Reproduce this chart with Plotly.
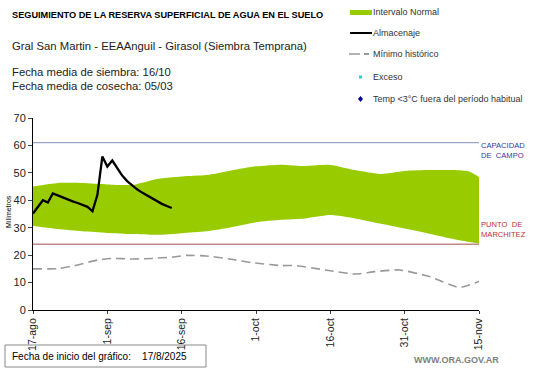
import plotly.graph_objects as go
import pandas as pd

START = pd.Timestamp("2025-08-17")

# Normal interval band (day offsets from start, lower/upper in mm)
band_days = [0, 5, 10, 15, 20, 25, 30, 35, 40, 45, 50, 55, 60, 65, 70, 75, 80, 85, 88, 90]
band_lower = [30.6, 29.5, 28.7, 28.1, 27.7, 27.4, 28.0, 28.7, 30.2, 32.0, 32.9, 33.4, 34.6, 33.4, 31.5, 29.7, 27.8, 25.8, 24.8, 24.2]
band_upper = [45.0, 46.3, 46.3, 45.8, 45.6, 47.8, 48.7, 49.2, 50.9, 52.4, 53.0, 52.5, 52.9, 51.0, 49.6, 50.7, 51.0, 51.0, 50.5, 48.5]

# Soil water storage (Almacenaje)
alm_days = list(range(0, 29))
alm_vals = [35.2, 37.5, 40.0, 39.2, 42.5, 41.8, 41.0, 40.3, 39.6, 39.0, 38.4, 37.6, 36.0, 42.0,
            56.0, 52.3, 54.5, 51.5, 49.0, 47.0, 45.4, 44.0, 42.8, 41.7, 40.6, 39.6, 38.7, 37.9, 37.2]

# Historical minimum
min_days = [0, 5, 9, 13, 16, 20, 24, 28, 31, 35, 40, 44, 50, 53, 59, 65, 69, 74, 80, 86, 90]
min_vals = [15.0, 15.1, 16.4, 18.2, 18.8, 18.6, 18.8, 19.3, 19.9, 19.7, 18.5, 17.3, 16.2, 16.2,
            14.6, 13.1, 14.0, 14.6, 12.2, 8.2, 10.4]

# Excess / low-temperature events (none in this period)
exc_days, exc_vals = [], []
temp_days, temp_vals = [], []

CAPACIDAD_CAMPO = 61
PUNTO_MARCHITEZ = 24

tick_days = [0, 15, 30, 45, 60, 75, 90]
tick_labels = ["17-ago", "1-sep", "16-sep", "1-oct", "16-oct", "31-oct", "15-nov"]
y_ticks = [0, 10, 20, 30, 40, 50, 60, 70]

legend_labels = ["Intervalo Normal", "Almacenaje", "Mínimo histórico", "Exceso",
                 "Temp <3°C fuera del período habitual"]


def to_dates(days):
    return [START + pd.Timedelta(days=d) for d in days]


END = START + pd.Timedelta(days=90)
GREEN = "#99CC00"

fig = go.Figure()
fig.add_trace(go.Scatter(x=to_dates(band_days), y=band_lower, mode="lines",
                         line=dict(width=0, color=GREEN, shape="spline", smoothing=0.6),
                         showlegend=False, hoverinfo="skip"))
fig.add_trace(go.Scatter(x=to_dates(band_days), y=band_upper, mode="lines",
                         line=dict(width=0, color=GREEN, shape="spline", smoothing=0.6),
                         fill="tonexty", fillcolor=GREEN, name=legend_labels[0],
                         showlegend=False))
fig.add_trace(go.Scatter(x=to_dates(min_days), y=min_vals, mode="lines",
                         line=dict(color="#999999", width=1.6, dash="9px,5px",
                                   shape="spline", smoothing=0.5),
                         name=legend_labels[2], showlegend=False))
fig.add_trace(go.Scatter(x=to_dates(alm_days), y=alm_vals, mode="lines",
                         line=dict(color="black", width=2.3),
                         name=legend_labels[1], showlegend=False))
fig.add_trace(go.Scatter(x=to_dates(exc_days), y=exc_vals, mode="markers",
                         marker=dict(color="#33CCCC", size=4, symbol="square"),
                         name=legend_labels[3], showlegend=False))
fig.add_trace(go.Scatter(x=to_dates(temp_days), y=temp_vals, mode="markers",
                         marker=dict(color="#000099", size=6, symbol="diamond"),
                         name=legend_labels[4], showlegend=False))

fig.add_shape(type="line", xref="x", yref="y", x0=START, x1=END,
              y0=CAPACIDAD_CAMPO, y1=CAPACIDAD_CAMPO, line=dict(color="#8090B8", width=1))
fig.add_shape(type="line", xref="x", yref="y", x0=START, x1=END,
              y0=PUNTO_MARCHITEZ, y1=PUNTO_MARCHITEZ, line=dict(color="#C08888", width=1.5))

W, H = 541, 368
L, R, T, B = 33, 62, 118, 58
PW, PH = W - L - R, H - T - B


def px(x):
    return (x - L) / PW


def py(y):
    return (H - B - y) / PH


ann = []


def text(t, x, y, size, color, xanchor="left", **kw):
    d = dict(text=t, x=px(x), y=py(y), xanchor=xanchor, yanchor="middle",
             font=dict(size=size, color=color), xref="paper", yref="paper",
             showarrow=False)
    d.update(kw)
    ann.append(d)


text("<b>SEGUIMIENTO DE LA RESERVA SUPERFICIAL DE AGUA EN EL SUELO</b>", 10, 15, 9.2, "black")
text("Gral San Martin - EEAAnguil - Girasol (Siembra Temprana)", 10, 46, 11.3, "#222")
text("Fecha media de siembra: 16/10", 10, 72, 11.3, "#222")
text("Fecha media de cosecha: 05/03", 10, 86, 11.3, "#222")
text("CAPACIDAD<br>DE  CAMPO", 479, 150, 7.6, "#3838A0", align="left")
text("PUNTO  DE<br>MARCHITEZ", 479, 229, 7.6, "#C03030", align="left")
text("Milímetros", 8, 212, 7, "black", xanchor="center", textangle=-90)
text("Fecha de inicio del gráfico:&nbsp;&nbsp;&nbsp;&nbsp;17/8/2025", 10, 356, 10, "black")
text("<b>WWW.ORA.GOV.AR</b>", 501, 360, 9, "#808080", xanchor="right")

# legend (manual)
leg_y = [12, 33, 54, 77, 99]
for lab, yy in zip(legend_labels, leg_y):
    text(lab, 371, yy, 9, "#333")

shapes = []
shapes.append(dict(type="rect", x0=px(350), x1=px(372), y0=py(15), y1=py(10),
                   fillcolor=GREEN, line=dict(width=0)))
shapes.append(dict(type="line", x0=px(350), x1=px(372), y0=py(33), y1=py(33),
                   line=dict(color="black", width=2)))
shapes.append(dict(type="line", x0=px(349), x1=px(360), y0=py(54), y1=py(54),
                   line=dict(color="#999999", width=1.5)))
shapes.append(dict(type="line", x0=px(364), x1=px(369), y0=py(54), y1=py(54),
                   line=dict(color="#777777", width=1.5)))
shapes.append(dict(type="rect", x0=px(359), x1=px(362), y0=py(78.5), y1=py(75.5),
                   fillcolor="#33CCCC", line=dict(width=0)))
cx, cy = px(360.5), py(99)
dx, dy = 2.5 / PW, 3.0 / PH
shapes.append(dict(type="path",
                   path=f"M {cx-dx} {cy} L {cx} {cy+dy} L {cx+dx} {cy} L {cx} {cy-dy} Z",
                   fillcolor="#000099", line=dict(width=0)))
shapes.append(dict(type="rect", x0=px(5), x1=px(206), y0=py(367), y1=py(345),
                   line=dict(color="#888888", width=1)))
for s in shapes:
    s.update(xref="paper", yref="paper")
    fig.add_shape(**s)

fig.update_layout(
    width=W, height=H,
    margin=dict(l=L, r=R, t=T, b=B, autoexpand=False),
    paper_bgcolor="white", plot_bgcolor="white",
    font=dict(family="Liberation Sans, Arial, sans-serif", color="#222"),
    annotations=ann,
    showlegend=False,
    xaxis=dict(type="date", range=[START, END], tickvals=to_dates(tick_days),
               ticktext=tick_labels, tickangle=-90, ticks="outside", ticklen=3,
               showline=True, linecolor="black", linewidth=1, showgrid=False,
               zeroline=False, tickfont=dict(size=10.5, color="#222"), automargin=False),
    yaxis=dict(range=[0, 70], tickvals=y_ticks, ticks="outside", ticklen=4,
               showline=True, linecolor="black", linewidth=1, showgrid=False,
               zeroline=False, tickfont=dict(size=11, color="#222"), automargin=False),
)

fig.write_html("out.html", config={"displayModeBar": False},
               post_script="document.body.style.margin='0';document.body.style.overflow='hidden';")
